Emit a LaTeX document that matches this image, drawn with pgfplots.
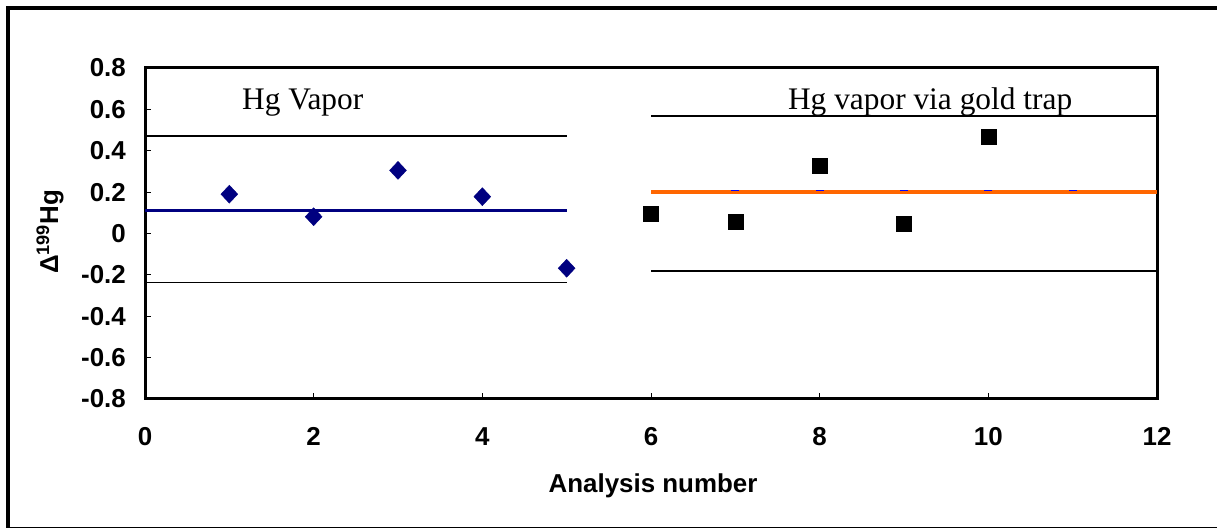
\documentclass[border=0pt]{standalone}
\usepackage{fontspec}
\setmainfont{Liberation Sans}
\newfontfamily\timesfont{Liberation Serif}
\usepackage{pgfplots}
\pgfplotsset{compat=1.18}
\definecolor{navyblue}{RGB}{0,0,128}
\definecolor{hgorange}{RGB}{255,102,0}

\begin{document}
\begin{tikzpicture}[x=1bp,y=1bp]
\useasboundingbox (0,0) rectangle (1217,529);
% outer frame (right edge falls outside the picture)
\draw[line width=3.5bp] (8,1) -- (8,521) -- (1217,521);
\draw[line width=1.5bp] (8,1.7) -- (1217,1.7);

\begin{axis}[
    at={(145bp,130bp)}, anchor=south west,
    scale only axis, width=1012bp, height=331bp,
    xmin=0, xmax=12, ymin=-0.8, ymax=0.8,
    xtick={0,2,4,6,8,10,12},
    xticklabels={0,2,4,6,8,10,12},
    ytick={-0.8,-0.6,-0.4,-0.2,0,0.2,0.4,0.6,0.8},
    yticklabels={-0.8,-0.6,-0.4,-0.2,0,0.2,0.4,0.6,0.8},
    xtick pos=bottom, ytick pos=left,
    tick align=inside,
    major tick length=6bp,
    every tick/.style={black, line width=0.8bp},
    axis line style={line width=3bp},
    ticklabel style={font=\bfseries\fontsize{26}{30}\selectfont, inner sep=0pt},
    xticklabel style={yshift=-28bp},
    yticklabel style={xshift=-19bp},
]
% Hg vapor
\addplot[black, line width=1.5bp] coordinates {(0,0.471) (5,0.471)};
\addplot[black, line width=1.5bp] coordinates {(0,-0.236) (5,-0.236)};
\addplot[navyblue, line width=3bp] coordinates {(0,0.112) (5,0.112)};
\addplot[navyblue, only marks, mark=diamond*, mark size=9bp,
    mark options={xscale=1.25, fill=navyblue, draw=navyblue}] coordinates {
    (1,0.190) (2,0.081) (3,0.305) (4,0.178) (5,-0.168)
};
% Hg vapor via gold trap
\addplot[black, line width=1.5bp] coordinates {(6,0.568) (12,0.568)};
\addplot[black, line width=1.5bp] coordinates {(6,-0.181) (12,-0.181)};
\addplot[blue, only marks, mark=-, mark size=4bp, line width=1.5bp] coordinates {
    (7,0.207) (8,0.207) (9,0.207) (10,0.207) (11,0.207)
};
\addplot[hgorange, line width=4bp] coordinates {(6,0.199) (12,0.199)};
\addplot[black, only marks, mark=square*, mark size=7.5bp] coordinates {
    (6,0.098) (7,0.057) (8,0.330) (9,0.047) (10,0.466)
};

\node[font=\timesfont\fontsize{31.5}{36}\selectfont, anchor=base] at (axis cs:1.87,0.6) {Hg Vapor};
\node[font=\timesfont\fontsize{31.5}{36}\selectfont, anchor=base] at (axis cs:9.31,0.6) {Hg vapor via gold trap};
\end{axis}

\node[rotate=90, font=\bfseries\fontsize{26}{30}\selectfont] at (50,297) {Δ\textsuperscript{199}Hg};
\node[anchor=base, font=\bfseries\fontsize{26}{30}\selectfont] at (653,36) {Analysis number};
\end{tikzpicture}
\end{document}
